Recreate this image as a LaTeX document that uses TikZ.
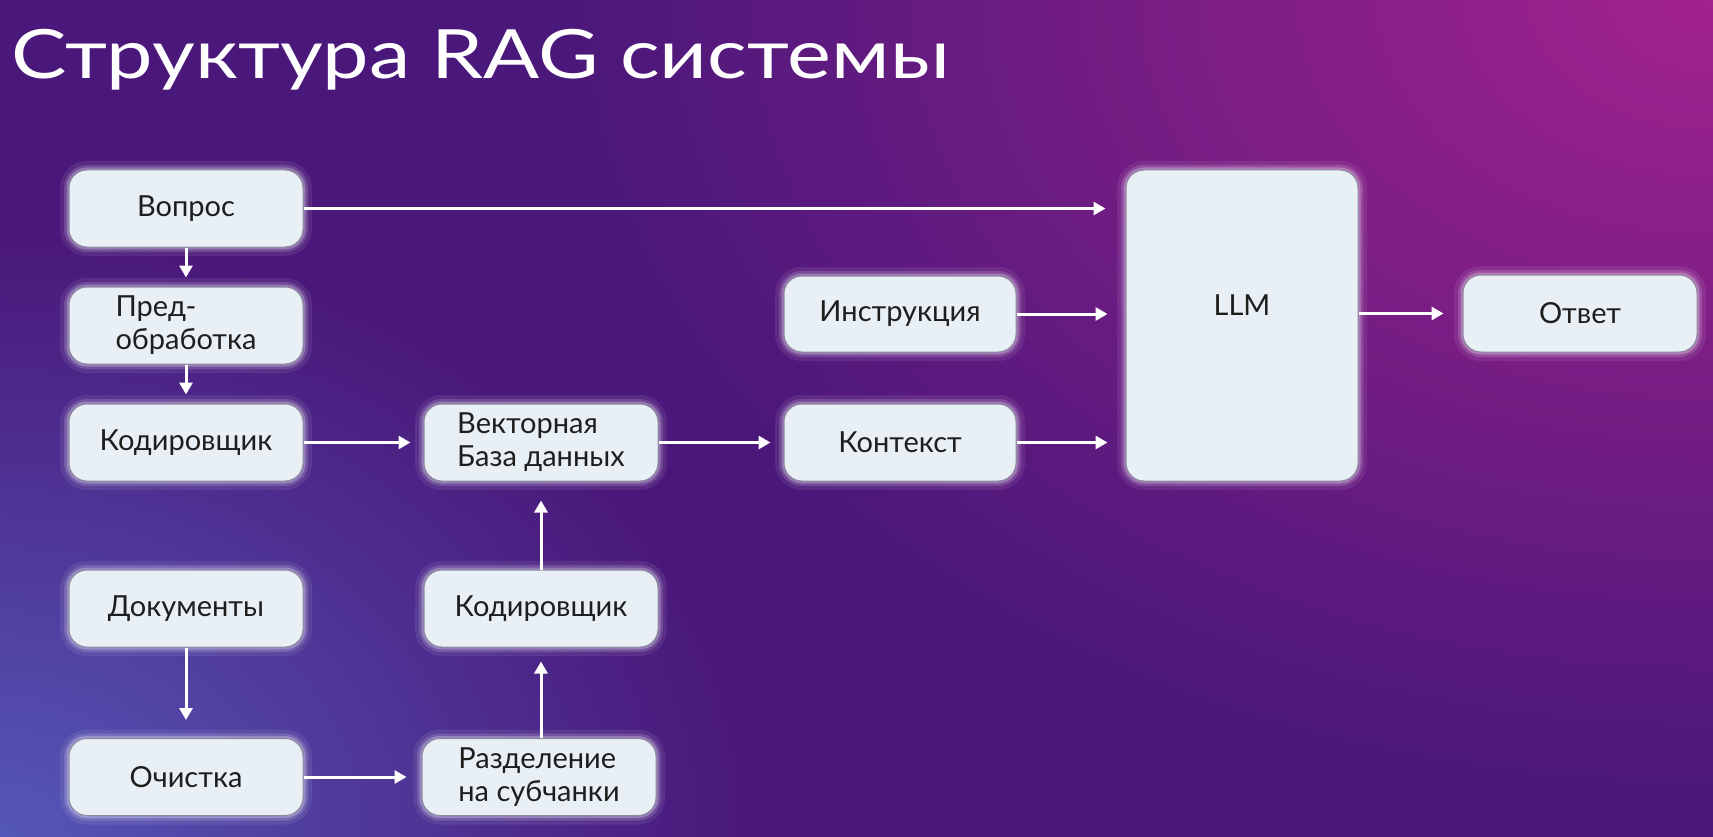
\documentclass[tikz,border=0pt]{standalone}
\usepackage{fontspec}
\setmainfont{Lato}
\usetikzlibrary{arrows.meta,fadings}
\definecolor{bgbase}{HTML}{4A187A}
\definecolor{glowTR}{HTML}{A3238F}
\definecolor{glowBL}{HTML}{5558B8}
\definecolor{boxfill}{HTML}{E8F0F5}
\definecolor{boxline}{HTML}{8C8AA0}
\definecolor{txt}{HTML}{1E1E1E}
\tikzfading[name=radfade, inner color=transparent!0, outer color=transparent!100]
\tikzset{
  box/.style={rounded corners=18pt, fill=boxfill, draw=boxline, line width=1pt,
    minimum width=234pt, minimum height=77pt, inner sep=4pt,
    font=\fontsize{29}{33}\selectfont, text=txt,
    preaction={draw=white, draw opacity=0.08, line width=18pt},
    preaction={draw=white, draw opacity=0.15, line width=10pt},
    preaction={draw=white, draw opacity=0.25, line width=5pt}},
  arr/.style={draw=white, line width=3pt, -{Triangle[length=12pt,width=13pt]}},
}
\begin{document}
\begin{tikzpicture}[x=1pt,y=-1pt]
\useasboundingbox (0,0) rectangle (1713,837);
% background
\fill[bgbase] (0,0) rectangle (1713,837);
\begin{scope}
\clip (0,0) rectangle (1713,837);
\fill[glowTR, path fading=radfade] (1713,0) ellipse (1150 and 800);
\fill[glowBL, path fading=radfade] (0,837) ellipse (750 and 600);
\end{scope}
% title
\node[anchor=base west, text=white, font=\fontsize{68}{72}\selectfont, inner sep=0pt, xscale=1.22] (title) at (11,79) {Структура RAG системы};
% boxes
\node[box] (q) at (186,208.5) {Вопрос};
\node[box, align=left] (pre) at (186,325.5) {Пред-\\обработка};
\node[box] (enc1) at (186,442.5) {Кодировщик};
\node[box, align=left] (vdb) at (541,442.5) {Векторная\\База данных};
\node[box] (enc2) at (541,608.5) {Кодировщик};
\node[box] (docs) at (186,608.5) {Документы};
\node[box] (clean) at (186,777) {Очистка};
\node[box, align=left] (split) at (539,777) {Разделение\\на субчанки};
\node[box, minimum width=232pt, minimum height=76pt] (inst) at (900,314) {Инструкция};
\node[box, minimum width=232pt] (ctx) at (900,442.5) {Контекст};
\node[box, minimum width=232pt, minimum height=311pt] (llm) at (1242,325.5) {\raisebox{41pt}{LLM}};
\node[box] (ans) at (1580,313.5) {Ответ};
% arrows
\draw[arr, shorten >=20pt] (q.east) -- (q.east -| llm.west);
\draw[arr, shorten >=9pt] (q.south) -- (pre.north);
\draw[arr, shorten >=9pt] (pre.south) -- (enc1.north);
\draw[arr, shorten >=13pt] (enc1.east) -- (vdb.west);
\draw[arr, shorten >=13pt] (vdb.east) -- (ctx.west);
\draw[arr, shorten >=18pt] (inst.east) -- (inst.east -| llm.west);
\draw[arr, shorten >=18pt] (ctx.east) -- (ctx.east -| llm.west);
\draw[arr, shorten >=19pt] (ans.west -| llm.east) -- (ans.west);
\draw[arr, shorten >=19pt] (enc2.north) -- (vdb.south);
\draw[arr, shorten >=14pt] (split.north -| enc2.south) -- (enc2.south);
\draw[arr, shorten >=18pt] (docs.south) -- (clean.north);
\draw[arr, shorten >=15pt] (clean.east) -- (split.west);
\end{tikzpicture}
\end{document}
